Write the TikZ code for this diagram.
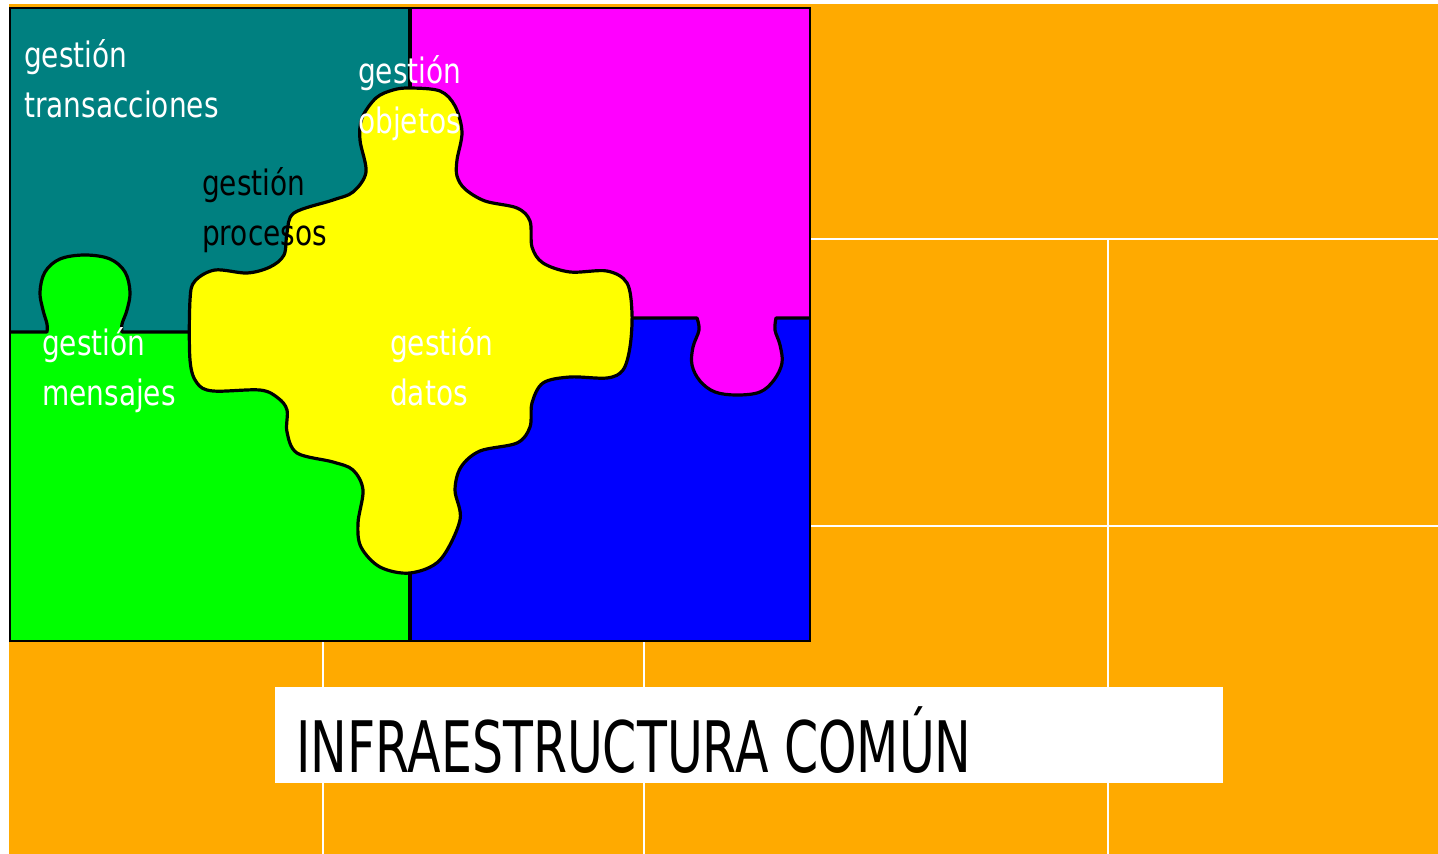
\documentclass[tikz,border=0pt]{standalone}
\usepackage{fontspec}
\setmainfont[FakeStretch=0.8]{DejaVu Sans}
\newfontfamily\titlefont[FakeStretch=0.69]{DejaVu Sans}
\definecolor{bgorange}{RGB}{255,170,0}
\definecolor{teal}{RGB}{0,128,128}
\definecolor{mag}{RGB}{255,0,255}
\definecolor{grn}{RGB}{0,255,0}
\definecolor{blu}{RGB}{0,0,255}
\definecolor{yel}{RGB}{255,255,0}
\tikzset{
  gridline/.style={draw=white, line width=2.2pt},
  edge/.style={draw=black, line width=3.2pt, line join=round},
  lbl/.style={anchor=base west, align=left, inner sep=0pt, font=\fontsize{35}{50}\selectfont},
}
\begin{document}
\begin{tikzpicture}[x=1pt,y=-1pt]
\useasboundingbox (0,0) rectangle (1438,854);
\fill[white] (0,0) rectangle (1438,854);
\fill[bgorange] (9,4) rectangle (1438,854);
% grid
\draw[gridline] (810,239) -- (1438,239);
\draw[gridline] (810,526) -- (1438,526);
\draw[gridline] (1108,239) -- (1108,854);
\draw[gridline] (323,641) -- (323,854);
\draw[gridline] (644,641) -- (644,854);
% quadrants
\fill[teal] (10,8) rectangle (410,332);
\fill[mag] (410,8) rectangle (810,318);
\fill[grn] (10,332) rectangle (410,641);
\fill[blu] (410,318) rectangle (810,641);
% green knob + boundary
\fill[grn] (47,333) -- plot[smooth, tension=0.6] coordinates {(47,332) (47,324) (43,310) (40,292) (45,272) (60,259) (85,255) (110,259) (125,272) (130,292) (127,310) (122,324) (122,332)} -- cycle;
\draw[edge] (10,332) -- (47,332) -- plot[smooth, tension=0.6] coordinates {(47,332) (47,324) (43,310) (40,292) (45,272) (60,259) (85,255) (110,259) (125,272) (130,292) (127,310) (122,324) (122,332)} -- (200,332);
% magenta knob + boundary
\fill[mag] (697,317) -- plot[smooth, tension=0.6] coordinates {(697,318) (699,330) (693,347) (692,365) (700,381) (715,392) (737,395) (760,392) (774,380) (782,363) (780,345) (775,330) (776,318)} -- cycle;
\draw[edge] (620,318) -- (697,318) -- plot[smooth, tension=0.6] coordinates {(697,318) (699,330) (693,347) (692,365) (700,381) (715,392) (737,395) (760,392) (774,380) (782,363) (780,345) (775,330) (776,318)} -- (810,318);
% vertical boundaries
\draw[edge] (410,8) -- (410,100);
\draw[edge] (410,560) -- (410,641);
% yellow piece
\filldraw[edge, fill=yel] plot[smooth cycle, tension=0.55] coordinates {
(410,88) (440,91) (455,106) (462,132) (457,160) (457,176) (465,189) (485,201) (517,208) (530,221) (532,247) (543,263) (570,272) (607,271) (627,283) (632,313) (630,347) (623,370) (607,378) (570,377) (543,383) (532,403) (530,427) (517,443) (480,451) (461,467) (455,490) (460,520) (440,560) (410,573) (380,567) (361,547) (358,523) (363,490) (353,470) (333,462) (297,453) (287,432) (287,410) (278,398) (260,390) (213,391) (197,383) (190,360) (190,300) (195,281) (215,270) (247,273) (270,267) (284,255) (287,233) (294,213) (333,200) (353,192) (366,172) (360,140) (362,118) (376,98) (393,90)};
% outer frame
\draw[black, line width=2.4pt] (10,8) rectangle (810,641);
% labels (anchor at baseline of the last line)
\node[lbl, text=white] (ltrans) at (24,117) {gestión\\transacciones};
\node[lbl, text=white] (lobj) at (358,133) {gestión\\objetos};
\node[lbl, text=black] (lproc) at (202,245) {gestión\\procesos};
\node[lbl, text=white] (lmens) at (42,405) {gestión\\mensajes};
\node[lbl, text=white] (ldat) at (390,405) {gestión\\datos};
% infrastructure
\fill[white] (275,687) rectangle (1223,783);
\node[anchor=base west, inner sep=0pt, font=\titlefont\fontsize{71}{71}\selectfont] (infra) at (296,772) {INFRAESTRUCTURA COMÚN};
\end{tikzpicture}
\end{document}
